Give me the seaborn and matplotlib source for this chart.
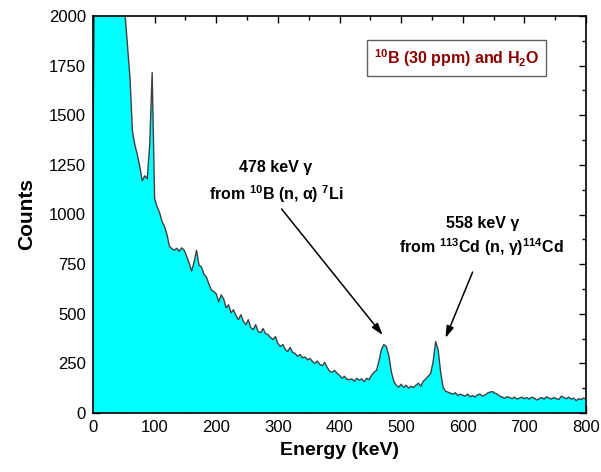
import matplotlib
matplotlib.use("Agg")
import matplotlib.pyplot as plt
from matplotlib.ticker import MultipleLocator
import numpy as np
import pandas as pd
import seaborn as sns

# ---- data ----
energy_step_kev = 4
counts = [
    1280, 3000, 3200, 3300, 3250, 3150, 3000, 2850, 2700, 2550,   # 0-36
    2400, 2250, 2120, 2010, 1850, 1690, 1420, 1350, 1300, 1240,   # 40-76
    1170, 1195, 1180, 1350, 1715, 1080, 1040, 1010, 965, 940,     # 80-116
    900, 840, 828, 820, 830, 815, 832, 820, 790, 755,             # 120-156
    715, 760, 820, 745, 735, 700, 685, 650, 620, 612,             # 160-196
    600, 560, 595, 575, 530, 545, 505, 520, 490, 470,             # 200-236
    495, 462, 445, 470, 430, 420, 445, 410, 405, 425,             # 240-276
    400, 395, 380, 370, 385, 350, 335, 345, 320, 310,             # 280-316
    330, 305, 300, 285, 295, 278, 282, 268, 275, 260,             # 320-356
    250, 262, 245, 238, 255, 230, 210, 205, 215, 200,             # 360-396
    190, 175, 185, 170, 168, 172, 160, 175, 165, 172,             # 400-436
    158, 175, 168, 190, 205, 215, 260, 320, 345, 335,             # 440-476
    290, 210, 160, 140, 130, 145, 128, 140, 125, 135,             # 480-516
    128, 140, 150, 135, 160, 172, 185, 200, 260, 360,             # 520-556
    320, 210, 130, 110, 105, 100, 95, 102, 88, 95,                # 560-596
    90, 85, 95, 82, 88, 80, 92, 95, 85, 90,                       # 600-636
    100, 105, 108, 100, 95, 85, 80, 75, 82, 78,                   # 640-676
    72, 80, 70, 75, 80, 72, 78, 70, 80, 75,                       # 680-716
    65, 72, 78, 70, 82, 75, 70, 78, 72, 68,                       # 720-756
    85, 78, 72, 80, 70, 75, 62, 72, 68, 75,                       # 760-796
    70,                                                           # 800
]
energy = [i * energy_step_kev for i in range(len(counts))]

x_ticks = [0, 100, 200, 300, 400, 500, 600, 700, 800]
y_ticks = [0, 250, 500, 750, 1000, 1250, 1500, 1750, 2000]

box_label = "$^{10}$B (30 ppm) and H$_2$O"
peak1_lines = ["478 keV γ", "from $^{10}$B (n, α) $^{7}$Li"]
peak2_lines = ["558 keV γ", "from $^{113}$Cd (n, γ)$^{114}$Cd"]

# ---- style ----
sns.set_style("white")
plt.rcParams["font.family"] = ["Liberation Sans", "DejaVu Sans"]
plt.rcParams["mathtext.default"] = "regular"
plt.rcParams["text.color"] = "black"
plt.rcParams["axes.labelcolor"] = "black"
plt.rcParams["xtick.color"] = "black"
plt.rcParams["ytick.color"] = "black"

df = pd.DataFrame({"Energy": energy, "Counts": counts})

fig = plt.figure(figsize=(6.01, 4.72), dpi=100)
ax = fig.add_axes([93 / 601, 59 / 472, (586 - 93) / 601, (413 - 16) / 472])

ax.fill_between(df["Energy"], df["Counts"], 0, color="#00FFFF", linewidth=0, zorder=1)
sns.lineplot(data=df, x="Energy", y="Counts", ax=ax, color="#404040",
             linewidth=1.0, zorder=2)

ax.set_xlim(0, 800)
ax.set_ylim(0, 2000)
ax.set_xticks(x_ticks)
ax.set_yticks(y_ticks)
ax.xaxis.set_minor_locator(MultipleLocator(50))
ax.yaxis.set_minor_locator(MultipleLocator(125))
ax.tick_params(which="both", direction="in", top=True, right=True,
               bottom=True, left=True, color="black", width=1.0,
               labelcolor="black")
ax.tick_params(which="major", length=5, labelsize=12, pad=5)
ax.tick_params(which="minor", length=3)
for sp in ax.spines.values():
    sp.set_visible(True)
    sp.set_color("black")
    sp.set_linewidth(1.2)

ax.set_xlabel("Energy (keV)", fontsize=14, fontweight="bold", labelpad=5,
              color="black")
ax.set_ylabel("Counts", fontsize=15, fontweight="bold", labelpad=9,
              color="black")

# box legend-like label
ax.text(590, 1788, box_label, ha="center", va="center", fontsize=11.5,
        fontweight="bold", color="#8B0000",
        bbox=dict(boxstyle="square,pad=0.45", facecolor="white",
                  edgecolor="#606060", linewidth=1.0))

# peak annotations
ax.text(297, 1239, peak1_lines[0], ha="center", va="center", fontsize=11.5,
        fontweight="bold", color="black")
ax.text(297, 1103, peak1_lines[1], ha="center", va="center", fontsize=11.5,
        fontweight="bold", color="black")
ax.text(632, 957, peak2_lines[0], ha="center", va="center", fontsize=11.5,
        fontweight="bold", color="black")
ax.text(630, 836, peak2_lines[1], ha="center", va="center", fontsize=11.5,
        fontweight="bold", color="black")

arrow_style = dict(arrowstyle="-|>,head_length=0.7,head_width=0.22",
                   color="black", linewidth=1.1, shrinkA=0, shrinkB=0)
ax.annotate("", xy=(470, 393), xytext=(306, 1028), arrowprops=arrow_style)
ax.annotate("", xy=(572, 378), xytext=(616, 710), arrowprops=arrow_style)

fig.savefig("out.png", dpi=100)
